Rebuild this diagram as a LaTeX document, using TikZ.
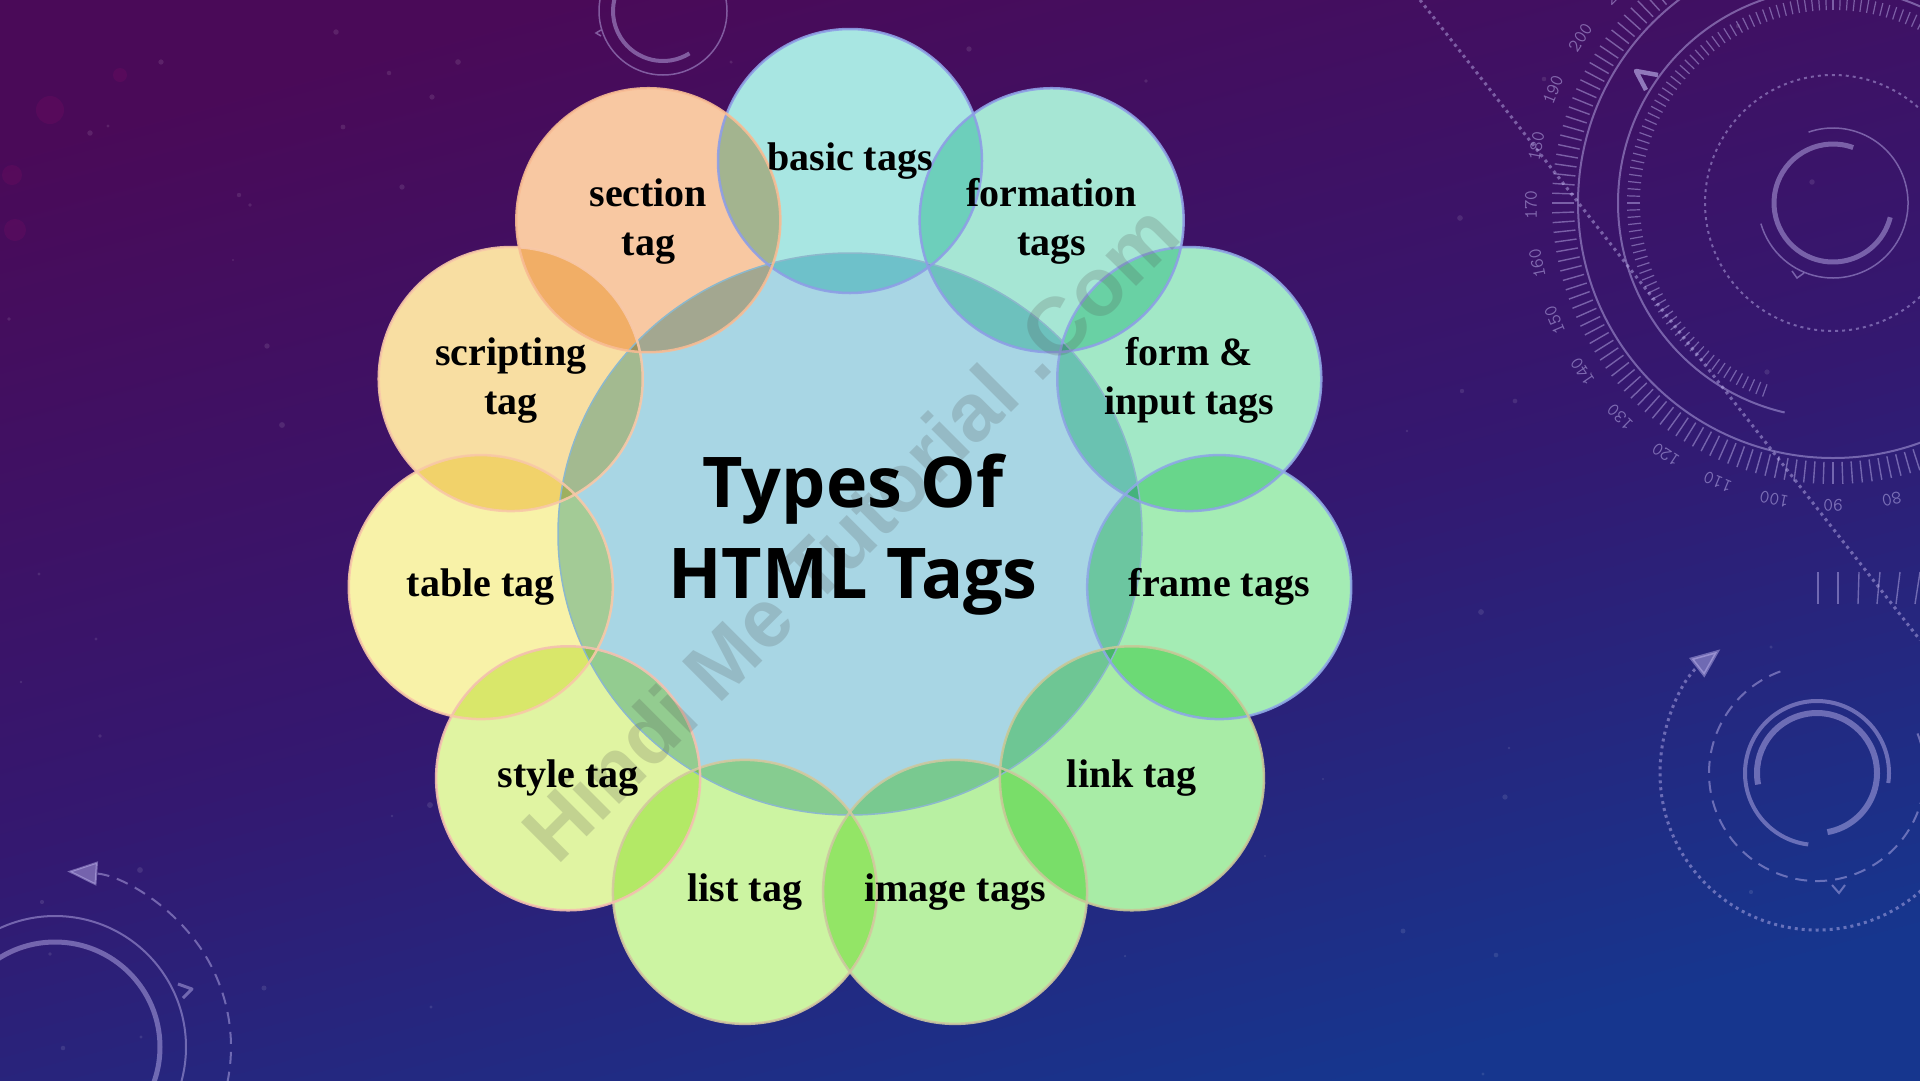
\documentclass[tikz,border=0pt]{standalone}
\usepackage{fontspec}
\setmainfont{Liberation Serif}
\newfontfamily\titlefont{Open Sans}
\newfontfamily\wmfont{Liberation Sans}
\usetikzlibrary{calc,arrows.meta}
\definecolor{bgTop}{RGB}{74,10,88}
\definecolor{bgMid}{RGB}{52,24,112}
\definecolor{bgBot}{RGB}{22,54,142}
\definecolor{hudc}{RGB}{200,190,245}
\definecolor{ctrcol}{HTML}{A8D6E4}
\definecolor{ctrol}{HTML}{8CB8CC}
\definecolor{col0}{HTML}{A8E6E2}
\definecolor{col1}{HTML}{A6E6D4}
\definecolor{col2}{HTML}{A2E8C6}
\definecolor{col3}{HTML}{A4ECB4}
\definecolor{col4}{HTML}{A8ECA6}
\definecolor{col5}{HTML}{B8F0A2}
\definecolor{col6}{HTML}{CCF4A2}
\definecolor{col7}{HTML}{E0F4A2}
\definecolor{col8}{HTML}{F8F2A8}
\definecolor{col9}{HTML}{F8DEA2}
\definecolor{col10}{HTML}{F8C8A2}
\definecolor{ol0}{HTML}{8E9EE6}
\definecolor{ol1}{HTML}{8E9EE6}
\definecolor{ol2}{HTML}{8EA4E4}
\definecolor{ol3}{HTML}{8EA8E6}
\definecolor{ol4}{HTML}{C8C898}
\definecolor{ol5}{HTML}{CCC8A0}
\definecolor{ol6}{HTML}{D4C8A0}
\definecolor{ol7}{HTML}{F4C0B0}
\definecolor{ol8}{HTML}{F8C8A8}
\definecolor{ol9}{HTML}{F8C8A8}
\definecolor{ol10}{HTML}{F8BC94}
\pgfdeclareverticalshading{bgsh}{100bp}{color(0bp)=(bgBot); color(25bp)=(bgBot); color(48bp)=(bgMid); color(75bp)=(bgTop); color(100bp)=(bgTop)}
\tikzset{
  hud/.style={draw=hudc, opacity=0.45, line width=2},
  hudtip/.style={-{Triangle[width=24,length=30]}},
  lab/.style={font=\fontsize{40}{49}\selectfont\bfseries, text=black, align=center, inner sep=0},
  ttl/.style={font=\titlefont\fontsize{70}{70}\selectfont\bfseries, text=black, inner sep=0},
  num/.style={font=\ttfamily\fontsize{19}{19}\selectfont, text=hudc, opacity=0.5, inner sep=0},
  dotline/.style={dash pattern=on 3pt off 4pt},
  dashline/.style={dash pattern=on 12pt off 8pt},
}
\begin{document}
\begin{tikzpicture}[x=1pt,y=-1pt]
\useasboundingbox (0,0) rectangle (1920,1080);
\shade[shading=bgsh, shading angle=15] (0,0) rectangle (1920,1080);
% bokeh
\pgfmathsetseed{12}
\foreach \i in {1,...,80}{
  \pgfmathsetmacro\bx{random(0,1920)}
  \pgfmathsetmacro\by{random(0,1080)}
  \pgfmathsetmacro\br{1+2*rnd}
  \fill[white, opacity=0.1] (\bx,\by) circle (\br);
}
\foreach \p/\r in {{(50,110)}/14,{(12,175)}/10,{(15,230)}/11,{(120,75)}/7}
  \fill[magenta!70!purple, opacity=0.09] \p circle (\r);

% ---- top centre HUD
\coordinate (T) at (663,11);
\draw[hud, line width=1.5] (T) circle (64);
\draw[hud, line width=4] ($(T)+(58:50)$) arc[start angle=58, end angle=200, radius=50];
\draw[hud, line width=1.5] (601,30) -- (596,33) -- (601,36);

% ---- top right HUD
\coordinate (H) at (1833,203);
\draw[hud] (H) circle (255);
\draw[hud] ($(H)+(-60:215)$) arc[start angle=-60, end angle=-257, radius=215];
\draw[hud, dotline] (H) circle (128);
\draw[hud, line width=5] ($(H)+(-70:59)$) arc[start angle=-70, end angle=-346, radius=59];
\draw[hud, line width=1.5] ($(H)+(-109:75)$) arc[start angle=-109, end angle=164, radius=75];
\foreach \a in {70,72,...,232} \draw[hud, line width=1.4] ($(H)+(\a:259)$) -- ($(H)+(\a:281)$);
\foreach \a in {-250,-248,...,-60} \draw[hud, line width=1.2] ($(H)+(\a:193)$) -- ($(H)+(\a:206)$);
\foreach \n in {70,80,...,210}{
  \pgfmathsetmacro\ps{(\n-90)*1.12+90}
  \pgfmathsetmacro\rt{-\ps-90}
  \node[num, rotate=\rt] (n\n) at ($(H)+(\ps:302)$) {\n};
}
\draw[hud, line width=4.5, opacity=0.6, line join=round] (1658,75) -- (1636,71) -- (1646,90);
\draw[hud, line width=1.5] (1792,271) -- (1797,278) -- (1804,273);
\draw[hud, line width=3, dotline] (1420,0) -- (1920,640);

% ---- bottom right HUD
\coordinate (B) at (1817,773);
\draw[hud, line width=6] ($(B)+(169:60)$) arc[start angle=169, end angle=440, radius=60];
\draw[hud, line width=4] ($(B)+(97:72)$) arc[start angle=97, end angle=368, radius=72];
\draw[hud, dashline] ($(B)+(-21.5:108)$) arc[start angle=-21.5, end angle=251, radius=108];
\draw[hud, line width=3, dotline, hudtip] ($(B)+(0:157)$) arc[start angle=0, end angle=232, radius=157];
\draw[hud, line width=2] (1832,885) -- (1839,893) -- (1845,885);
\foreach \xb/\xt in {1818/1818,1838/1838,1858/1859,1877/1880,1896/1900,1915/1920}
  \draw[hud, line width=1.4] (\xb,604) -- (\xt,572);

% ---- bottom left HUD
\coordinate (L) at (55,1047);
\draw[hud, line width=5] (L) circle (105);
\draw[hud, line width=2] (L) circle (131);
\draw[hud, dashline, hudtip] ($(L)+(25:176)$) arc[start angle=25, end angle=-86, radius=176];
\draw[hud, line width=3, line join=round] (178,984) -- (192,989) -- (183,998);

% ---- circles
\coordinate (ctr) at (850,534);
\foreach \i in {0,...,10}{
  \coordinate (c\i) at ($(ctr)+({-90+\i*360/11}:373)$);
}
\fill[white] (ctr) ellipse [x radius=292, y radius=281];
\foreach \i in {0,...,10} \fill[white] (c\i) circle (132);
\begin{scope}[blend mode=multiply]
  \fill[ctrcol] (ctr) ellipse [x radius=292, y radius=281];
  \foreach \i in {0,...,10} \fill[col\i] (c\i) circle (132);
\end{scope}
\draw[ctrol, line width=1.5] (ctr) ellipse [x radius=292, y radius=281];
\foreach \i in {0,...,10} \draw[ol\i, line width=2.5, opacity=0.9] (c\i) circle (132);

% ---- watermark
\node[font=\wmfont\bfseries\fontsize{82}{82}\selectfont, text=black!70, text opacity=0.2, rotate=45, inner sep=0] (wm) at (850,532) {Hindi Me Tutorial .Com};

% ---- labels
\node[lab] (basic) at (c0) {basic tags};
\node[lab] (formation) at ($(c1)+(0,1)$) {formation\\tags};
\node[lab] (forminput) at ($(c2)+(0,1)$) {form \&\\input tags};
\node[lab] (frame) at (c3) {frame tags};
\node[lab] (link) at (c4) {link tag};
\node[lab] (image) at (c5) {image tags};
\node[lab] (list) at (c6) {list tag};
\node[lab] (style) at (c7) {style tag};
\node[lab] (table) at (c8) {table tag};
\node[lab] (scripting) at ($(c9)+(0,1)$) {scripting\\tag};
\node[lab] (section) at ($(c10)+(0,1)$) {section\\tag};

% ---- title
\node[ttl, anchor=base] (title1) at (853,507) {Types Of};
\node[ttl, anchor=base] (title2) at (853,598) {HTML Tags};
\end{tikzpicture}
\end{document}
